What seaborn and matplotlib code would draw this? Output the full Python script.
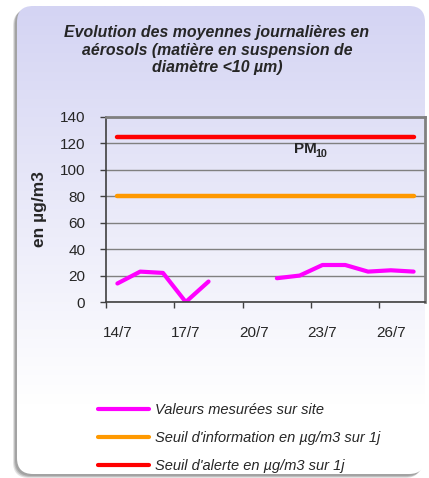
import numpy as np
import pandas as pd
import matplotlib
matplotlib.use("Agg")
import matplotlib.pyplot as plt
from matplotlib.patches import FancyBboxPatch
import seaborn as sns

# chart data
days = ["14/7", "15/7", "16/7", "17/7", "18/7", "19/7", "20/7",
        "21/7", "22/7", "23/7", "24/7", "25/7", "26/7", "27/7"]
measured = [14, 23, 22, 0, 15.5, np.nan, np.nan, 18, 20, 28, 28, 23, 24, 23]
info_threshold = [80] * len(days)
alert_threshold = [125] * len(days)
tick_days = ["14/7", "17/7", "20/7", "23/7", "26/7"]

title = "Evolution des moyennes journalières en\naérosols (matière en suspension de\ndiamètre <10 µm)"
labels = ["Valeurs mesurées sur site",
          "Seuil d'information en µg/m3 sur 1j",
          "Seuil d'alerte en µg/m3 sur 1j"]

sns.set_style("white")
plt.rcParams["font.family"] = ["Liberation Sans", "DejaVu Sans"]

W, H = 429, 478
fig = plt.figure(figsize=(W / 100, H / 100), dpi=100)

# background: rounded panel with a lavender-to-white gradient and a shadow
bg = fig.add_axes([0, 0, 1, 1], zorder=-5)
bg.axis("off")
for dx, dy, a in [(-4, 4, 0.2), (-3, 3, 0.3), (-2, 2, 0.35)]:
    sh = FancyBboxPatch((17 + dx, 6 + dy), 408, 468,
                        boxstyle="round,pad=0,rounding_size=16",
                        fc="#707070", ec="none", alpha=a)
    bg.add_patch(sh)
panel = FancyBboxPatch((17, 6), 408, 468, boxstyle="round,pad=0,rounding_size=16",
                       fc="none", ec="none")
bg.add_patch(panel)
top = np.array([212, 212, 243]) / 255
bottom = np.array([255, 255, 255]) / 255
t = np.clip(np.linspace(0, 1, 256) / 0.85, 0, 1)[:, None]
grad = (top * (1 - t) + bottom * t)[:, None, :]
im = bg.imshow(grad, extent=(17, 425, 474, 6), aspect="auto", zorder=1)
im.set_clip_path(panel)
bg.set_xlim(0, W)
bg.set_ylim(H, 0)

fig.text(217 / W, 1 - 50 / H, title, ha="center", va="center", fontsize=11.4,
         fontweight="bold", fontstyle="italic", linespacing=1.22)

# main plot
ax = fig.add_axes([106 / W, 1 - 302 / H, (425 - 106) / W, (302 - 117) / H])
ax.set_facecolor("none")

x = np.arange(len(days))
seg = np.cumsum(pd.isna(measured))
df = pd.DataFrame({"x": x, "val": measured, "seg": seg}).dropna()
sns.lineplot(data=df, x="x", y="val", units="seg", estimator=None,
             color="#ff00ff", lw=3, ax=ax, solid_capstyle="round")
sns.lineplot(x=x, y=info_threshold, color="#ff9900", lw=3.2, ax=ax,
             solid_capstyle="round")
sns.lineplot(x=x, y=alert_threshold, color="#ff0000", lw=3.2, ax=ax,
             solid_capstyle="round")

ax.set_xlim(-0.5, len(days) - 0.5)
ax.set_ylim(0, 140)
ax.set_yticks(range(0, 141, 20))
ax.yaxis.grid(True, color="#808080", lw=1)
ax.set_axisbelow(True)
ax.tick_params(axis="y", length=4, width=1, color="#404040", pad=11,
               labelsize=11, left=True)

tick_idx = [days.index(d) for d in tick_days]
ax.set_xticks([i - 0.5 for i in tick_idx])
ax.set_xticklabels([])
ax.set_xticks(tick_idx, minor=True)
ax.set_xticklabels(tick_days, minor=True)
ax.tick_params(axis="x", which="major", length=4, width=1, color="#404040",
               bottom=True)
ax.tick_params(axis="x", which="minor", length=0, pad=17, labelsize=11)

for s in ["top", "right"]:
    ax.spines[s].set_color("#808080")
    ax.spines[s].set_linewidth(2)
for s in ["left", "bottom"]:
    ax.spines[s].set_color("#404040")
    ax.spines[s].set_linewidth(1.2)

ax.set_xlabel("")
ax.set_ylabel("en µg/m3", fontsize=12.5, fontweight="bold", labelpad=9)

ax.text(7.73, 116, "PM", fontsize=11, fontweight="bold", ha="left",
        va="center")
ax.annotate("10", xy=(7.73, 116), xytext=(15.8, -3.5), textcoords="offset points",
            fontsize=7.8, fontweight="bold", ha="left", va="center")

leg_handles = [plt.Line2D([], [], color=c, lw=3)
               for c in ["#ff00ff", "#ff9900", "#ff0000"]]
fig.legend(leg_handles, labels, loc="upper left",
           bbox_to_anchor=(85 / W, 1 - 390 / H), frameon=False,
           prop={"style": "italic", "size": 10.5, "family": "Liberation Sans"},
           handlelength=3.5, labelspacing=0.95, handletextpad=0.4)

fig.savefig("out.png", dpi=100)
